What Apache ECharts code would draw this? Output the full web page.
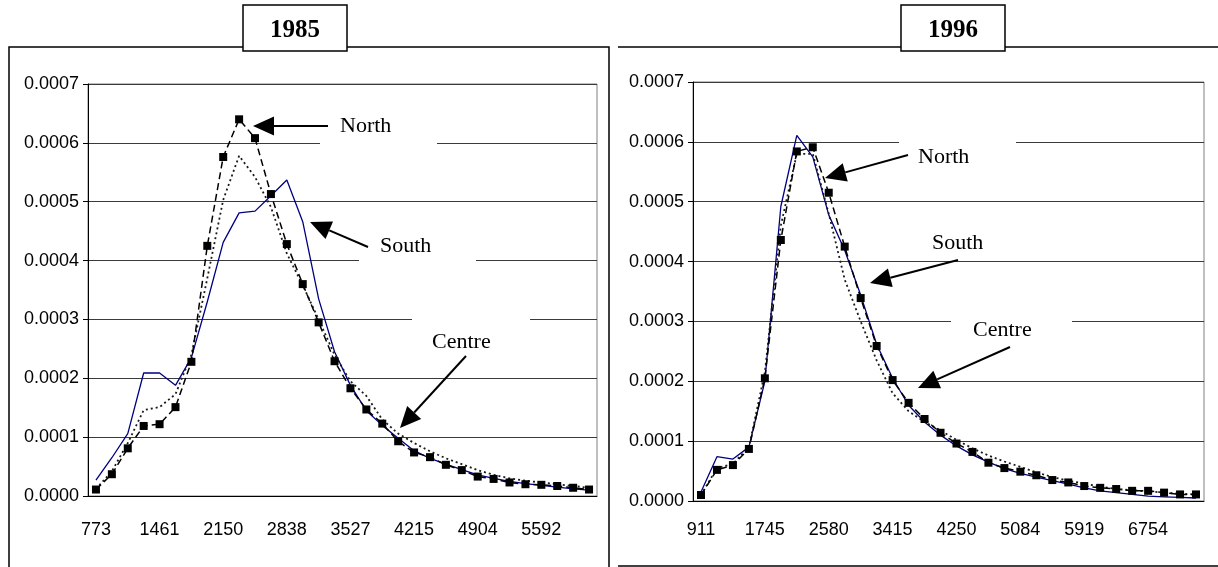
<!DOCTYPE html>
<html>
<head>
<meta charset="utf-8">
<script src="https://cdn.jsdelivr.net/npm/echarts@6/dist/echarts.min.js"></script>
<style>
  html, body { margin: 0; padding: 0; background: #fff; }
  #main { width: 1218px; height: 567px; }
</style>
</head>
<body>
<div id="main"></div>
<script>
// 1985 panel
const cats85 = [773, 945, 1117, 1289, 1461, 1634, 1806, 1978, 2150, 2322, 2494, 2666, 2838, 3010, 3183, 3355,
  3527, 3699, 3871, 4043, 4215, 4387, 4559, 4731, 4904, 5076, 5248, 5420, 5592, 5764, 5936, 6108];
const north85 = [0.000011, 0.000037, 0.000081, 0.000119, 0.000122, 0.000151, 0.000228, 0.000425, 0.000576, 0.000640,
  0.000608, 0.000513, 0.000428, 0.000360, 0.000295, 0.000229, 0.000183, 0.000147, 0.000123, 0.000093, 0.000074,
  0.000066, 0.000053, 0.000044, 0.000033, 0.000029, 0.000023, 0.000020, 0.000019, 0.000017, 0.000014, 0.000011];
const centre85 = [0.000012, 0.000042, 0.000090, 0.000146, 0.000151, 0.000173, 0.000240, 0.000370, 0.000503, 0.000578,
  0.000542, 0.000491, 0.000412, 0.000358, 0.000300, 0.000240, 0.000195, 0.000170, 0.000130, 0.000106, 0.000090,
  0.000076, 0.000064, 0.000054, 0.000044, 0.000036, 0.000030, 0.000026, 0.000023, 0.000020, 0.000017, 0.000014];
const south85 = [0.000027, 0.000065, 0.000106, 0.000209, 0.000209, 0.000188, 0.000235, 0.000330, 0.000431, 0.000481,
  0.000484, 0.000510, 0.000537, 0.000466, 0.000335, 0.000245, 0.000188, 0.000145, 0.000120, 0.000098, 0.000077,
  0.000064, 0.000054, 0.000045, 0.000036, 0.000030, 0.000025, 0.000021, 0.000018, 0.000015, 0.000012, 0.000010];

// 1996 panel
const cats96 = [911, 1120, 1328, 1537, 1745, 1954, 2163, 2371, 2580, 2789, 2998, 3206, 3415, 3624, 3832, 4041,
  4250, 4459, 4667, 4876, 5084, 5293, 5502, 5710, 5919, 6128, 6337, 6545, 6754, 6963, 7171, 7380];
const north96 = [0.000010, 0.000052, 0.000060, 0.000087, 0.000205, 0.000436, 0.000584, 0.000591, 0.000515, 0.000425,
  0.000339, 0.000259, 0.000202, 0.000164, 0.000137, 0.000114, 0.000096, 0.000082, 0.000064, 0.000055, 0.000049,
  0.000043, 0.000035, 0.000031, 0.000025, 0.000022, 0.000020, 0.000017, 0.000017, 0.000014, 0.000011, 0.000011];
const centre96 = [0.000010, 0.000055, 0.000062, 0.000090, 0.000215, 0.000460, 0.000580, 0.000580, 0.000480, 0.000370,
  0.000300, 0.000235, 0.000180, 0.000150, 0.000132, 0.000118, 0.000102, 0.000088, 0.000076, 0.000066, 0.000057,
  0.000048, 0.000040, 0.000034, 0.000029, 0.000024, 0.000020, 0.000018, 0.000016, 0.000014, 0.000012, 0.000011];
const south96 = [0.000015, 0.000074, 0.000070, 0.000090, 0.000200, 0.000492, 0.000611, 0.000575, 0.000478, 0.000419,
  0.000344, 0.000262, 0.000205, 0.000160, 0.000132, 0.000110, 0.000092, 0.000077, 0.000065, 0.000054, 0.000046,
  0.000040, 0.000034, 0.000028, 0.000022, 0.000017, 0.000014, 0.000011, 0.000008, 0.000007, 0.000006, 0.000005];

const yTicks = ['0.0000', '0.0001', '0.0002', '0.0003', '0.0004', '0.0005', '0.0006', '0.0007'];

const AXIS_FONT = '"Liberation Sans Narrow", "Arial Narrow", "Liberation Sans", Arial, sans-serif';
const SERIF = '"Liberation Serif", "Times New Roman", serif';

function xAxisFor(idx, cats, margin) {
  return {
    type: 'category', gridIndex: idx, data: cats.map(String), boundaryGap: true,
    axisLine: { lineStyle: { color: '#000', width: 1 } },
    axisTick: { interval: 0, length: 6, lineStyle: { color: '#000' } },
    axisLabel: { interval: 3, color: '#000', fontFamily: AXIS_FONT, fontSize: 18, margin: margin },
    splitLine: { show: false }
  };
}

function yAxisFor(idx) {
  return {
    type: 'value', gridIndex: idx, min: 0, max: 0.0007, interval: 0.0001,
    axisLine: { show: true, lineStyle: { color: '#000', width: 1 } },
    axisTick: { show: true, length: 5, lineStyle: { color: '#000' } },
    axisLabel: {
      color: '#000', fontFamily: AXIS_FONT, fontSize: 18, margin: 9,
      formatter: v => yTicks[Math.round(v * 10000)]
    },
    splitLine: { lineStyle: { color: '#3a3a3a', width: 1 } }
  };
}

function seriesFor(idx, north, centre, south) {
  return [
    { name: 'South', type: 'line', xAxisIndex: idx, yAxisIndex: idx, data: south, symbol: 'none',
      lineStyle: { color: '#000080', width: 1.3 }, z: 2 },
    { name: 'Centre', type: 'line', xAxisIndex: idx, yAxisIndex: idx, data: centre, symbol: 'none',
      lineStyle: { color: '#1a1a1a', width: 1.8, type: [2, 3] }, z: 3 },
    { name: 'North', type: 'line', xAxisIndex: idx, yAxisIndex: idx, data: north,
      symbol: 'rect', symbolSize: 8, showSymbol: true, itemStyle: { color: '#000' },
      lineStyle: { color: '#000', width: 1.5, type: [7, 4] }, z: 4 }
  ];
}

// annotation helpers
function arrow(x1, y1, x2, y2) {
  const dx = x2 - x1, dy = y2 - y1, L = Math.hypot(dx, dy);
  const ux = dx / L, uy = dy / L, hl = 21, hw = 9.5;
  const bx = x2 - ux * hl, by = y2 - uy * hl;
  return [
    { type: 'line', z: 110, shape: { x1: x1, y1: y1, x2: bx, y2: by }, style: { stroke: '#000', lineWidth: 2 } },
    { type: 'polygon', z: 110, shape: { points: [[x2, y2], [bx - uy * hw, by + ux * hw], [bx + uy * hw, by - ux * hw]] },
      style: { fill: '#000' } }
  ];
}
function cover(x, y, w, h) {
  return { type: 'rect', z: 100, shape: { x: x, y: y, width: w, height: h }, style: { fill: '#fff' } };
}
function label(text, x, y) {
  return { type: 'text', z: 111, x: x, y: y,
    style: { text: text, font: '22px ' + SERIF, fill: '#000', align: 'left', verticalAlign: 'middle',
      textAlign: 'left', textVerticalAlign: 'middle' } };
}
function titleBox(text, x, w) {
  return [
    { type: 'rect', z: 120, shape: { x: x, y: 5, width: w, height: 46 }, style: { fill: '#fff', stroke: '#000', lineWidth: 1.5 } },
    { type: 'text', z: 121, x: x + w / 2, y: 31,
      style: { text: text, font: 'bold 25px ' + SERIF, fill: '#000', align: 'center', verticalAlign: 'middle',
        textAlign: 'center', textVerticalAlign: 'middle' } }
  ];
}

const graphics = [].concat(
  // panel frames
  [{ type: 'rect', z: 90, shape: { x: 9, y: 47, width: 600, height: 560 }, style: { fill: 'none', stroke: '#000', lineWidth: 1.5 } },
   { type: 'line', z: 90, shape: { x1: 618, y1: 47, x2: 1218, y2: 47 }, style: { stroke: '#000', lineWidth: 1.5 } },
   { type: 'line', z: 90, shape: { x1: 618, y1: 566, x2: 1218, y2: 566 }, style: { stroke: '#000', lineWidth: 1.5 } }],
  titleBox('1985', 243, 104),
  titleBox('1996', 901, 104),
  // text boxes that hide the gridlines behind the labels
  [cover(320, 105, 117, 44), cover(359, 226, 117, 40), cover(412, 316, 118, 44),
   cover(899, 136, 117, 40), cover(951, 314, 121, 36)],
  [label('North', 340, 126), label('South', 380, 246), label('Centre', 432, 342),
   label('North', 918, 157), label('South', 932, 243), label('Centre', 973, 330)],
  arrow(328, 126, 253, 126),
  arrow(368, 247, 310, 222),
  arrow(466, 356, 400, 428),
  arrow(908, 155, 825, 178),
  arrow(958, 260, 870, 283),
  arrow(1010, 347, 918, 388)
);

const option = {
  animation: false,
  backgroundColor: '#fff',
  grid: [
    { left: 88, top: 84, width: 509, height: 412, show: true, borderColor: '#808080', borderWidth: 1 },
    { left: 693, top: 82, width: 511, height: 419, show: true, borderColor: '#808080', borderWidth: 1 }
  ],
  xAxis: [xAxisFor(0, cats85, 25), xAxisFor(1, cats96, 20)],
  yAxis: [yAxisFor(0), yAxisFor(1)],
  series: seriesFor(0, north85, centre85, south85).concat(seriesFor(1, north96, centre96, south96)),
  graphic: graphics
};

const myChart = echarts.init(document.getElementById('main'));
myChart.setOption(option);
</script>
</body>
</html>
